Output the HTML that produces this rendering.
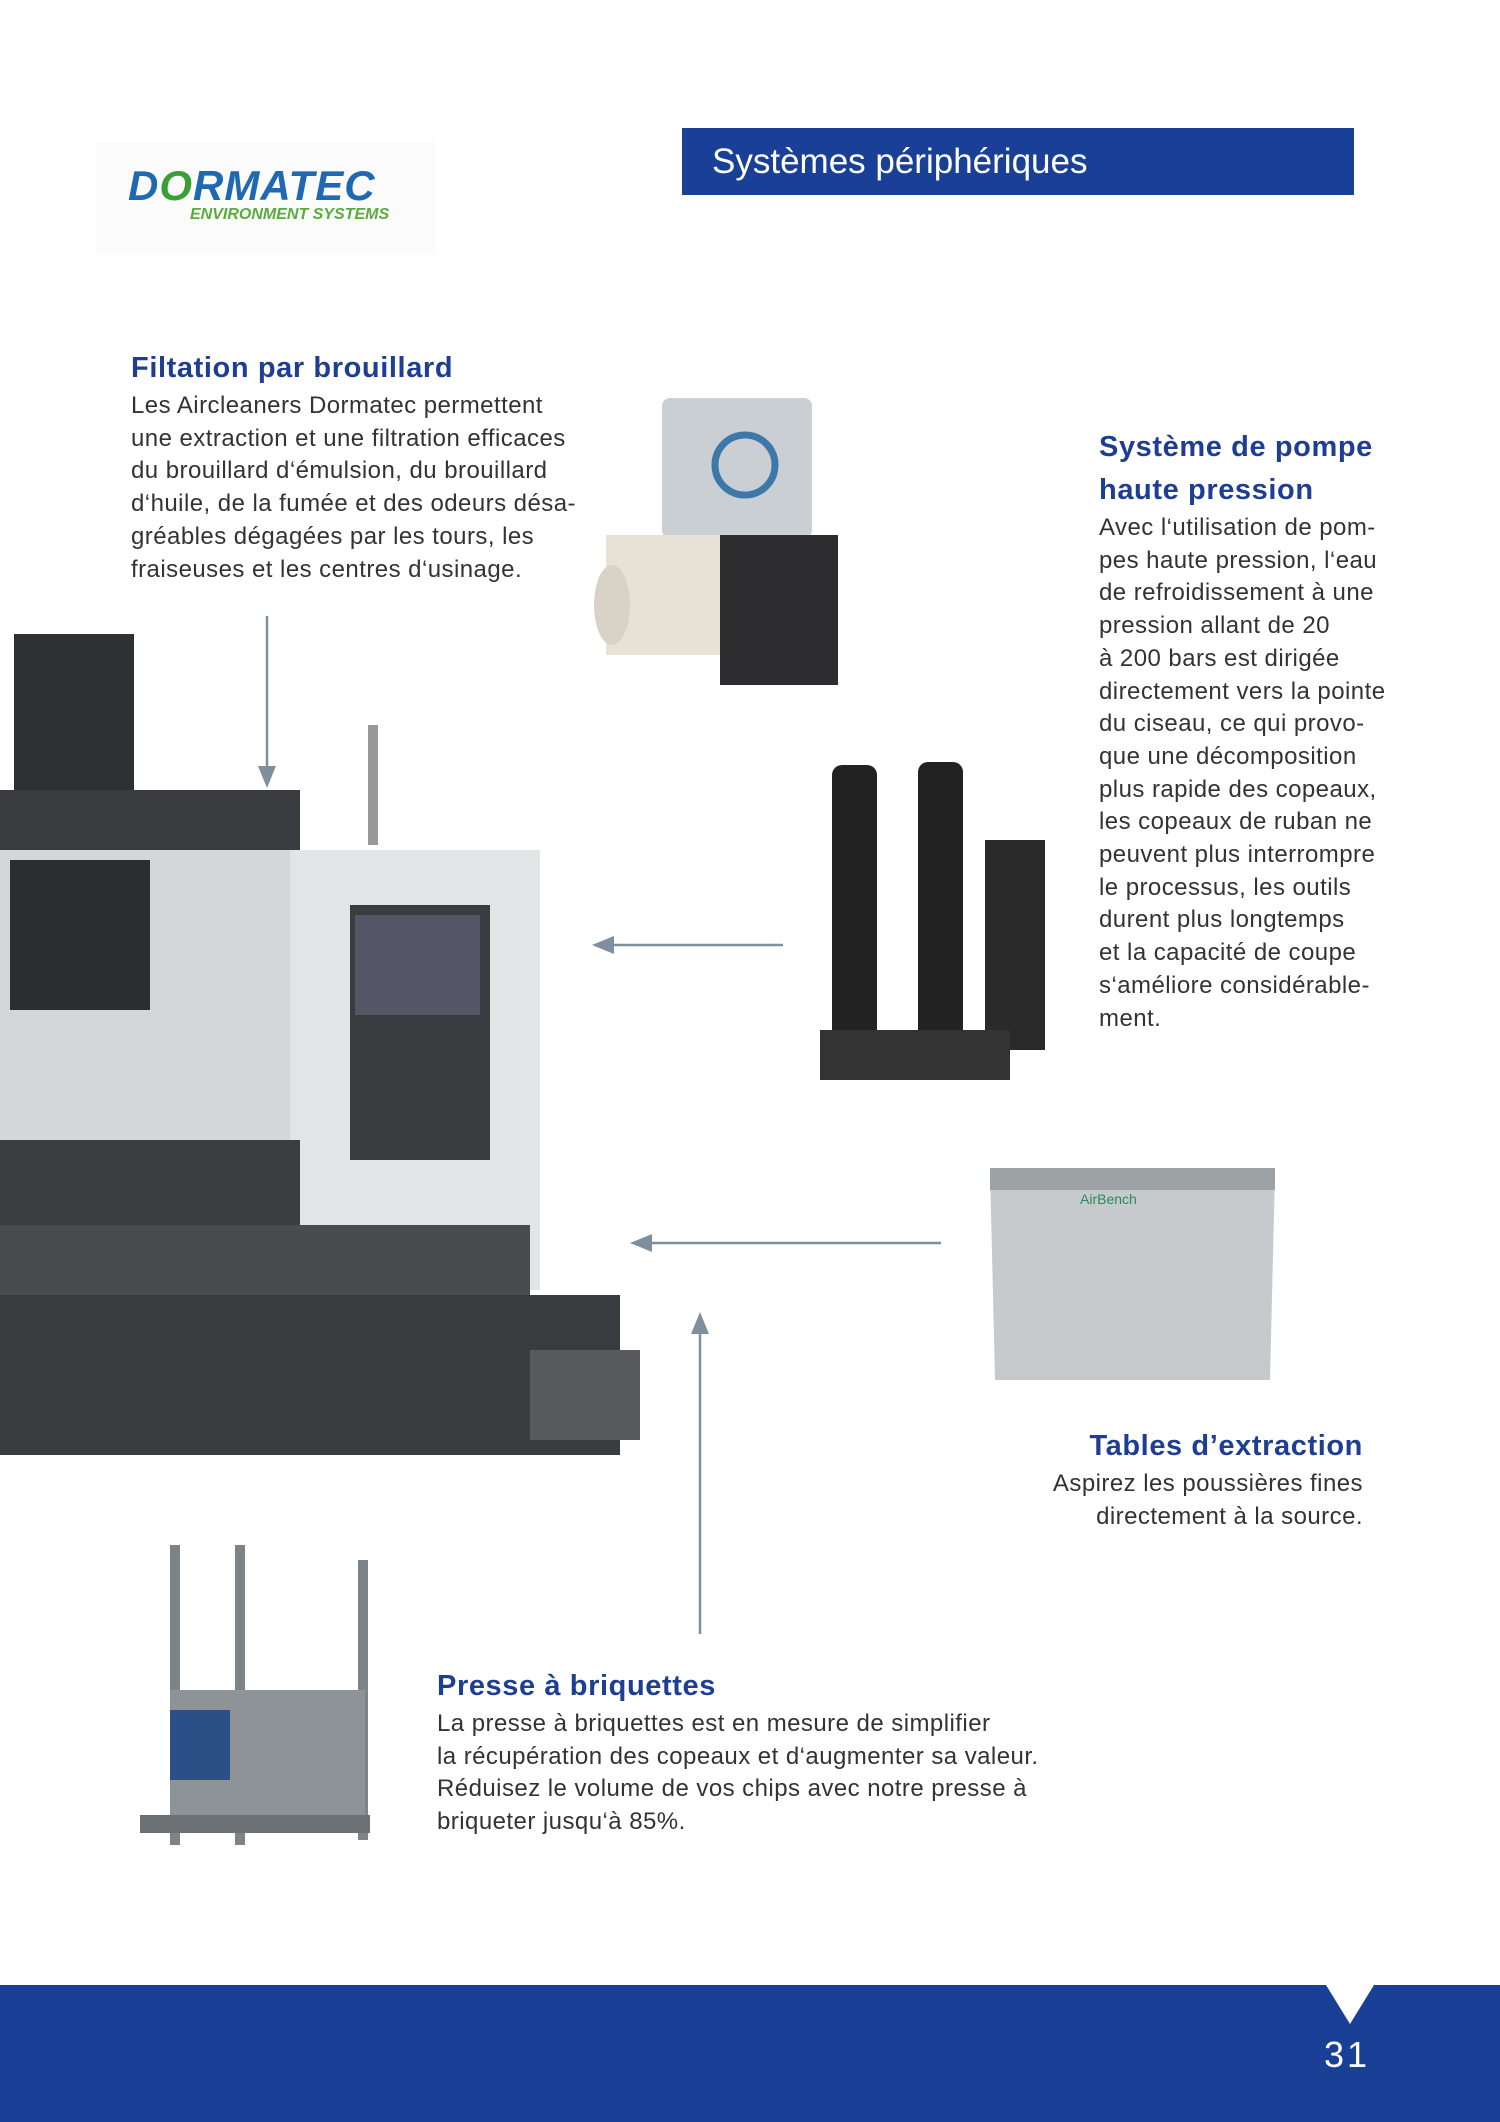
<!DOCTYPE html>
<html><head><meta charset="utf-8">
<style>
*{margin:0;padding:0;box-sizing:border-box}
body{width:1500px;height:2122px;position:relative;background:#fff;font-family:"Liberation Sans","DejaVu Sans",sans-serif;overflow:hidden}
.a{position:absolute}
.h{color:#1d3e93;font-weight:bold;font-size:29px;letter-spacing:0.6px;line-height:43px}
.t{color:#333;font-size:24px;letter-spacing:0.45px;line-height:32.7px}
</style></head><body>
<div class="a" style="left:682px;top:128px;width:672px;height:67px;background:#1a3f96;color:#fff;font-size:35px;line-height:67px;padding-left:30px">Systèmes périphériques</div>

<div class="a" style="left:96px;top:142px;width:340px;height:112px;background:#fbfbfb"></div>
<div class="a" style="left:128px;top:162px;font-size:42px;font-weight:bold;font-style:italic;color:#1f69b3;letter-spacing:1px">D<span style="color:#3aa035">O</span>RMATEC</div>
<div class="a" style="left:190px;top:206px;font-size:16px;font-weight:bold;font-style:italic;color:#5aab3e">ENVIRONMENT SYSTEMS</div>

<div class="a" style="left:131px;top:347px">
<div class="h">Filtation par brouillard</div>
<div class="t">Les Aircleaners Dormatec permettent<br>une extraction et une filtration efficaces<br>du brouillard d‘émulsion, du brouillard<br>d‘huile, de la fumée et des odeurs désa-<br>gréables dégagées par les tours, les<br>fraiseuses et les centres d‘usinage.</div>
</div>

<div class="a" style="left:1099px;top:426px">
<div class="h">Système de pompe<br>haute pression</div>
<div class="t">Avec l‘utilisation de pom-<br>pes haute pression, l‘eau<br>de refroidissement à une<br>pression allant de 20<br>à 200 bars est dirigée<br>directement vers la pointe<br>du ciseau, ce qui provo-<br>que une décomposition<br>plus rapide des copeaux,<br>les copeaux de ruban ne<br>peuvent plus interrompre<br>le processus, les outils<br>durent plus longtemps<br>et la capacité de coupe<br>s‘améliore considérable-<br>ment.</div>
</div>

<div class="a" style="right:137px;top:1425px;text-align:right">
<div class="h">Tables d’extraction</div>
<div class="t">Aspirez les poussières fines<br>directement à la source.</div>
</div>

<div class="a" style="left:437px;top:1665px">
<div class="h">Presse à briquettes</div>
<div class="t">La presse à briquettes est en mesure de simplifier<br>la récupération des copeaux et d‘augmenter sa valeur.<br>Réduisez le volume de vos chips avec notre presse à<br>briqueter jusqu‘à 85%.</div>
</div>

<svg class="a" style="left:0;top:0" width="1500" height="2122">
<g fill="#7f8f9c" stroke="#7f8f9c" stroke-width="2.5">
<line x1="267" y1="616" x2="267" y2="770"/><polygon points="258,766 276,766 267,788" stroke="none"/>
<line x1="783" y1="945" x2="610" y2="945"/><polygon points="614,936 614,954 592,945" stroke="none"/>
<line x1="941" y1="1243" x2="648" y2="1243"/><polygon points="652,1234 652,1252 630,1243" stroke="none"/>
<line x1="700" y1="1634" x2="700" y2="1330"/><polygon points="691,1334 709,1334 700,1312" stroke="none"/>
</g>
<!-- machine -->
<rect x="14" y="634" width="120" height="230" fill="#2f3033"/>
<rect x="0" y="850" width="310" height="320" fill="#d5d6d8"/>
<rect x="0" y="790" width="300" height="60" fill="#3a3b3e"/>
<rect x="10" y="860" width="140" height="150" fill="#2c2d30"/>
<rect x="290" y="850" width="250" height="440" fill="#e3e4e6"/>
<rect x="350" y="905" width="140" height="255" fill="#3b3c40"/>
<rect x="355" y="915" width="125" height="100" fill="#556"/>
<rect x="0" y="1140" width="300" height="85" fill="#3c3d40"/>
<rect x="0" y="1225" width="530" height="70" fill="#4a4b4e"/>
<rect x="0" y="1295" width="620" height="160" fill="#3a3b3e"/>
<rect x="530" y="1350" width="110" height="90" fill="#58595c"/>
<rect x="368" y="725" width="10" height="120" fill="#999"/>
<!-- aircleaner -->
<rect x="662" y="398" width="150" height="140" rx="8" fill="#c9cfd2"/>
<circle cx="745" cy="465" r="30" fill="none" stroke="#3e78a8" stroke-width="7"/>
<rect x="606" y="535" width="130" height="120" fill="#e8e2d6"/>
<rect x="720" y="535" width="118" height="150" fill="#2d2d2f"/>
<ellipse cx="612" cy="605" rx="18" ry="40" fill="#d9d3c7"/>
<!-- pump -->
<rect x="832" y="765" width="45" height="290" rx="10" fill="#222"/>
<rect x="918" y="762" width="45" height="290" rx="10" fill="#222"/>
<rect x="985" y="840" width="60" height="210" fill="#2a2a2a"/>
<rect x="820" y="1030" width="190" height="50" fill="#333"/>
<!-- bench -->
<polygon points="990,1170 1275,1172 1270,1380 995,1380" fill="#c7cacc"/>
<rect x="990" y="1168" width="285" height="22" fill="#9da2a5"/>
<text x="1080" y="1204" font-size="14" fill="#2a8a5a" font-family="Liberation Sans">AirBench</text>
<!-- briquette -->
<rect x="170" y="1545" width="10" height="300" fill="#7d8488"/>
<rect x="235" y="1545" width="10" height="300" fill="#7d8488"/>
<rect x="358" y="1560" width="10" height="280" fill="#7d8488"/>
<rect x="170" y="1690" width="195" height="140" fill="#8d9397"/>
<rect x="170" y="1710" width="60" height="70" fill="#2b4f86"/>
<rect x="140" y="1815" width="230" height="18" fill="#6a7074"/>
<!-- footer -->
<rect x="0" y="1985" width="1500" height="137" fill="#1a3f96"/>
<polygon points="1326,1985 1374,1985 1350,2024" fill="#fff"/>
<text x="1324" y="2067" font-size="36" fill="#fff" font-family="Liberation Sans" letter-spacing="3">31</text>
</svg>
</body></html>
